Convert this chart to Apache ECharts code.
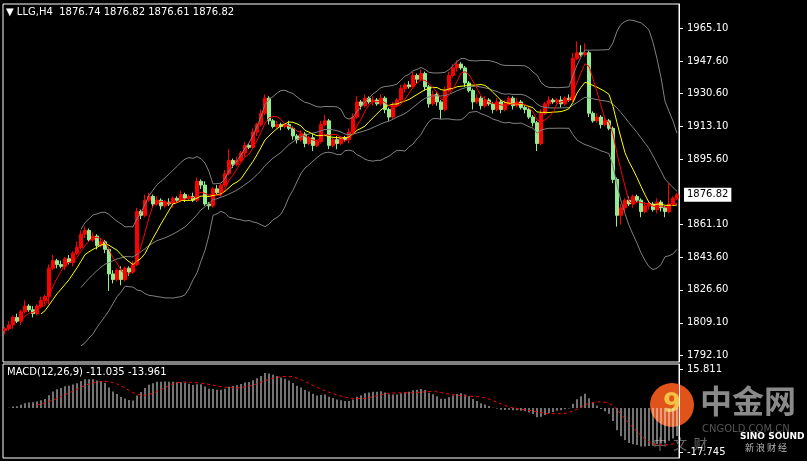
<!DOCTYPE html>
<html style="height: 100%">
<head>
<meta charset="utf-8">
<script src="https://cdn.jsdelivr.net/npm/echarts@6/dist/echarts.min.js"></script>
</head>
<body style="height: 100%; margin: 0; background: #000">
<div id="container" style="width: 807px; height: 461px"></div>
<script type="text/javascript">
// closes, one per H4 bar
const closes = [
  1806, 1808, 1812, 1810, 1815, 1818, 1816, 1814, 1818, 1821,
  1823, 1838, 1842, 1840, 1839, 1843, 1841, 1846, 1849, 1856,
  1858, 1853, 1855, 1850, 1852, 1848, 1835, 1832, 1837, 1832,
  1838, 1836, 1840, 1868, 1866, 1874, 1876, 1872, 1874, 1871,
  1873, 1872, 1875, 1874, 1877, 1875, 1876, 1874, 1884, 1882,
  1872, 1871, 1880, 1878, 1882, 1888, 1895, 1893, 1895, 1899,
  1903, 1902, 1910, 1914, 1920, 1928, 1916, 1913, 1914, 1913,
  1914, 1912, 1908, 1906, 1909, 1904, 1907, 1903, 1905, 1914,
  1916, 1903, 1906, 1904, 1907, 1906, 1910, 1918, 1926, 1924,
  1928, 1926, 1927, 1925, 1928, 1922, 1918, 1924, 1927, 1933,
  1935, 1934, 1940, 1938, 1941, 1934, 1925, 1930, 1926, 1922,
  1932, 1940, 1944, 1946, 1944, 1936, 1932, 1926, 1928, 1924,
  1927, 1925, 1922, 1926, 1922, 1925, 1928, 1924, 1926, 1923,
  1922, 1918, 1915, 1904, 1920, 1925, 1927, 1926, 1927, 1925,
  1928, 1927, 1949, 1952, 1951, 1952, 1920, 1916, 1918, 1914,
  1916, 1912, 1885, 1866, 1870, 1874, 1872, 1876, 1874, 1868,
  1871, 1872, 1869, 1873, 1870, 1868, 1872, 1875, 1876.82
];
// wick lengths above / below the body
const upWick = [
  1, 2, 1, 2, 1, 3, 1, 2, 1, 2, 1, 2, 3, 1, 2, 1, 2, 1, 3, 2,
  2, 1, 2, 1, 2, 1, 1, 2, 1, 2, 1, 1, 2, 2, 1, 3, 2, 1, 2, 1,
  1, 2, 1, 1, 2, 1, 1, 2, 2, 1, 2, 1, 1, 2, 1, 2, 6, 1, 2, 1,
  2, 1, 2, 1, 2, 2, 1, 1, 2, 1, 1, 2, 1, 1, 2, 1, 1, 2, 1, 2,
  3, 1, 1, 2, 1, 1, 2, 2, 3, 1, 2, 1, 2, 1, 2, 1, 1, 2, 1, 2,
  1, 2, 2, 1, 2, 1, 1, 2, 1, 1, 2, 2, 2, 2, 1, 1, 1, 1, 2, 1,
  2, 1, 1, 2, 1, 2, 1, 1, 2, 1, 1, 1, 1, 1, 2, 1, 2, 1, 1, 2,
  1, 2, 3, 6, 4, 5, 1, 1, 2, 1, 2, 1, 1, 1, 2, 1, 2, 1, 1, 1,
  2, 1, 1, 2, 1, 1, 11, 1, 1
];
const downWick = [
  2, 1, 2, 1, 2, 1, 1, 2, 1, 1, 2, 4, 1, 2, 1, 2, 1, 2, 1, 1,
  2, 1, 1, 2, 1, 2, 9, 2, 1, 3, 1, 2, 1, 1, 2, 1, 1, 2, 1, 2,
  1, 1, 2, 1, 1, 2, 1, 1, 1, 2, 1, 2, 1, 1, 2, 1, 1, 2, 1, 1,
  2, 1, 1, 2, 1, 1, 2, 1, 1, 2, 1, 1, 2, 2, 1, 2, 1, 3, 1, 1,
  1, 2, 1, 3, 1, 1, 2, 1, 1, 2, 1, 1, 2, 1, 1, 2, 2, 1, 1, 1,
  2, 1, 1, 2, 1, 2, 2, 1, 2, 5, 1, 1, 1, 2, 1, 2, 1, 4, 1, 2,
  1, 1, 2, 1, 2, 1, 1, 2, 1, 1, 2, 1, 2, 4, 1, 1, 2, 1, 1, 2,
  1, 1, 1, 1, 1, 1, 2, 1, 1, 2, 1, 1, 2, 6, 5, 2, 1, 2, 1, 3,
  1, 2, 1, 2, 2, 3, 1, 1, 1
];
const priceTicks = [1792.10, 1809.10, 1826.60, 1843.60, 1861.10, 1895.60, 1913.10, 1930.60, 1947.60, 1965.10];
const macdTicks = [15.811, -17.745];
const lastPrice = 1876.82;

const cats = closes.map((c, i) => i);
const ohlc = closes.map((c, i) => {
  const o = i === 0 ? c - 1 : closes[i - 1];
  return [o, c, Math.min(o, c) - downWick[i], Math.max(o, c) + upWick[i]];
});

function sma(arr, p) {
  return arr.map((v, i) => {
    if (i < p - 1) return null;
    let s = 0;
    for (let k = i - p + 1; k <= i; k++) s += arr[k];
    return +(s / p).toFixed(3);
  });
}
function ema(arr, p) {
  const a = 2 / (p + 1);
  const out = [];
  arr.forEach((v, i) => out.push(i === 0 ? v : out[i - 1] + a * (v - out[i - 1])));
  return out;
}
const ma5 = sma(closes, 5);
const ma10 = sma(closes, 10);
const mid = sma(closes, 20);
const bbUp = [], bbDn = [];
closes.forEach((c, i) => {
  if (mid[i] === null) { bbUp.push(null); bbDn.push(null); return; }
  let s = 0;
  for (let k = i - 19; k <= i; k++) s += (closes[k] - mid[i]) ** 2;
  const sd = Math.sqrt(s / 20);
  bbUp.push(+(mid[i] + 2 * sd).toFixed(3));
  bbDn.push(+(mid[i] - 2 * sd).toFixed(3));
});
const e12 = ema(closes, 12), e26 = ema(closes, 26);
const macd = closes.map((c, i) => +(e12[i] - e26[i]).toFixed(3));
const signal = sma(macd, 9);

var dom = document.getElementById('container');
var myChart = echarts.init(dom);
const labelFont = { color: '#fff', fontFamily: 'DejaVu Sans', fontSize: 10 };

var option = {
  backgroundColor: '#000',
  animation: false,
  grid: [
    { left: 3, top: 4, width: 676, height: 358, show: true, borderColor: '#fff', borderWidth: 1 },
    { left: 3, top: 364, width: 676, height: 94, show: true, borderColor: '#fff', borderWidth: 1 }
  ],
  xAxis: [
    { type: 'category', data: cats, gridIndex: 0, show: false },
    { type: 'category', data: cats, gridIndex: 1, show: false }
  ],
  yAxis: [
    {
      gridIndex: 0, position: 'right', min: 1788.4, max: 1977.8,
      splitLine: { show: false },
      axisLine: { show: true, lineStyle: { color: '#fff' } },
      axisTick: { show: true, length: 4, lineStyle: { color: '#fff' }, customValues: priceTicks },
      axisLabel: Object.assign({ margin: 8, formatter: v => v.toFixed(2), customValues: priceTicks }, labelFont)
    },
    {
      gridIndex: 1, position: 'right', min: -20.17, max: 17.83,
      splitLine: { show: false },
      axisLine: { show: true, lineStyle: { color: '#fff' } },
      axisTick: { show: true, length: 4, lineStyle: { color: '#fff' }, customValues: macdTicks },
      axisLabel: Object.assign({ margin: 8, formatter: v => v.toFixed(3), customValues: macdTicks }, labelFont)
    }
  ],
  series: [
    {
      type: 'candlestick', data: ohlc, barWidth: 3,
      itemStyle: { color: '#ff0000', color0: '#90ee90', borderColor: '#ff0000', borderColor0: '#90ee90', borderWidth: 1 },
      markLine: {
        symbol: 'none', silent: true,
        lineStyle: { color: '#888', width: 0 },
        label: { position: 'end', backgroundColor: '#fff', color: '#000', fontFamily: 'DejaVu Sans', fontSize: 10, padding: [2, 3], formatter: lastPrice.toFixed(2) },
        data: [{ yAxis: lastPrice }]
      }
    },
    { type: 'line', data: bbUp, symbol: 'none', lineStyle: { color: '#808080', width: 1 } },
    { type: 'line', data: mid, symbol: 'none', lineStyle: { color: '#808080', width: 1 } },
    { type: 'line', data: bbDn, symbol: 'none', lineStyle: { color: '#808080', width: 1 } },
    { type: 'line', data: ma10, symbol: 'none', lineStyle: { color: '#ffff00', width: 1 } },
    { type: 'line', data: ma5, symbol: 'none', lineStyle: { color: '#ff0000', width: 1 } },
    { type: 'bar', xAxisIndex: 1, yAxisIndex: 1, data: macd, barWidth: 1, itemStyle: { color: '#e6e6e6' } },
    { type: 'line', xAxisIndex: 1, yAxisIndex: 1, data: signal, symbol: 'none', lineStyle: { color: '#ff0000', width: 1, type: [3, 3] } }
  ],
  graphic: [
    { type: 'text', left: 6, top: 7, style: { text: '▼ LLG,H4  1876.74 1876.82 1876.61 1876.82', fill: '#fff', font: '10px "DejaVu Sans"' } },
    { type: 'text', left: 7, top: 367, style: { text: 'MACD(12,26,9) -11.035 -13.961', fill: '#fff', font: '10px "DejaVu Sans"' } },
    { type: 'circle', shape: { cx: 672, cy: 405, r: 22 }, style: { fill: '#e0531b' } },
    { type: 'text', x: 663, y: 392, style: { text: '9', fill: '#f6c142', font: 'bold 26px "DejaVu Sans"' } },
    { type: 'text', x: 700, y: 385, style: { text: '中金网', fill: '#8a8a8a', font: 'bold 32px "Noto Sans CJK SC"' } },
    { type: 'text', x: 702, y: 424, style: { text: 'CNGOLD.COM.CN', fill: '#555', font: '10px "DejaVu Sans"' } },
    { type: 'text', x: 740, y: 432, style: { text: 'SINO SOUND', fill: '#fff', font: 'bold 9px "DejaVu Sans"' } },
    { type: 'text', x: 653, y: 437, style: { text: '中  文  财', fill: '#666', font: '14px "Noto Sans CJK SC"' } },
    { type: 'text', x: 745, y: 443, style: { text: '新 浪 财 经', fill: '#bbb', font: '9px "Noto Sans CJK SC"' } }
  ]
};

myChart.setOption(option);
</script>
</body>
</html>
